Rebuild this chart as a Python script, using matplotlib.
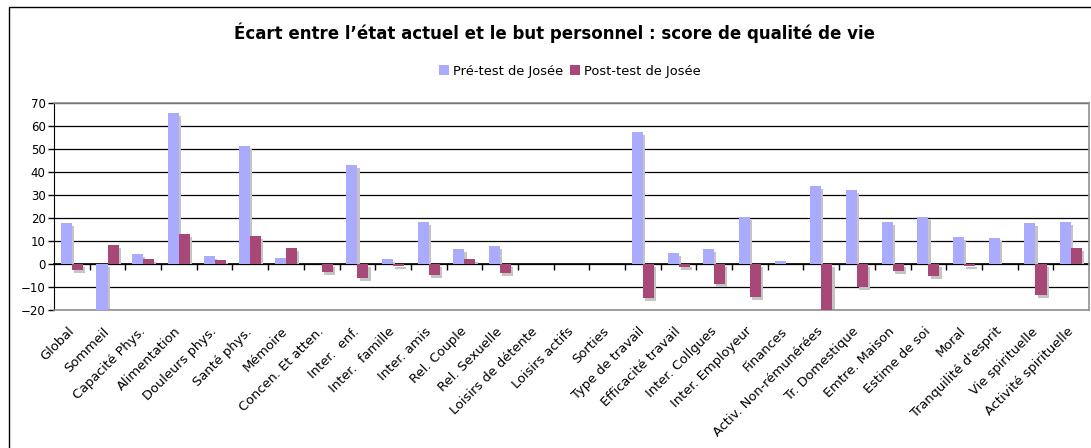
import numpy as np
import matplotlib
matplotlib.use("Agg")
import matplotlib.pyplot as plt
from matplotlib.patches import Rectangle, Patch

categories = ["Global", "Sommeil", "Capacité Phys.", "Alimentation", "Douleurs phys.",
              "Santé phys.", "Mémoire", "Concen. Et atten.", "Inter.  enf.", "Inter.  famille",
              "Inter. amis", "Rel. Couple", "Rel. Sexuelle", "Loisirs de détente",
              "Loisirs actifs", "Sorties", "Type de travail", "Efficacité travail",
              "Inter. Collgues", "Inter. Employeur", "Finances", "Activ. Non-rémunérées",
              "Tr. Domestique", "Emtre. Maison", "Estime de soi", "Moral",
              "Tranquilité d'esprit", "Vie spirituelle", "Activité spirituelle"]

pre_test = [18, -25, 4.5, 65.7, 3.5, 51.3, 2.6, 0, 43, 2.2, 18.3, 6.5, 7.8, 0, 0, 0,
            57.4, 4.8, 6.5, 20.4, 1.3, 33.9, 32.2, 18.3, 20.4, 11.7, 11.3, 17.8, 18.3]
post_test = [-2.6, 8.3, 2.2, 13, 1.7, 12.2, 7, -3.4, -6, -0.7, -4.8, 2.2, -3.9, 0, 0, 0,
             -14.8, -1.2, -8.7, -14.3, 0, -22, -10, -3, -5.2, -0.9, -0.2, -13.3, 7]

pre_color = "#aaaaff"
post_color = "#a84876"
shadow_color = "#c4c4c4"

fig = plt.figure(figsize=(10.91, 4.48), dpi=100)
fig.patches.append(Rectangle((9 / 1091, -0.05), 1.2, 1 - 7 / 448 + 0.05,
                             transform=fig.transFigure, fill=False,
                             edgecolor="black", linewidth=1))

ax = fig.add_axes([54 / 1091, 1 - 310 / 448, (1089 - 54) / 1091, (310 - 103) / 448])

x = np.arange(len(categories))
w = 0.31
dx, dy = 0.06, 1.3  # shadow offset (category units, data units)


def draw_bars(pos, vals, color):
    vals = np.asarray(vals, dtype=float)
    # shadow: shifted right and down, starting at zero for positive bars
    s_bottom = np.where(vals >= 0, 0, -dy)
    s_height = np.where(vals >= 0, np.maximum(vals - dy, 0), vals)
    ax.bar(pos + dx, s_height, w, bottom=s_bottom, color=shadow_color, zorder=2.5)
    return ax.bar(pos, vals, w, color=color, zorder=3)


draw_bars(x - w / 2, pre_test, pre_color)
draw_bars(x + w / 2, post_test, post_color)

ax.set_xlim(-0.5, len(categories) - 0.5)
ax.set_ylim(-20, 70)
ax.set_yticks(np.arange(-20, 71, 10))
ax.yaxis.grid(True, color="black", linewidth=0.9)
ax.set_axisbelow(True)
ax.tick_params(axis="y", labelsize=8.5, length=4, width=1, colors="black", pad=2)

ax.set_xticks(x)
ax.set_xticklabels(categories, rotation=45, ha="right", va="center",
                   rotation_mode="anchor", fontsize=9.4)
ax.tick_params(axis="x", length=0, pad=14)

for side in ["top", "right", "bottom"]:
    ax.spines[side].set_color("#909090")
    ax.spines[side].set_linewidth(1.2)
ax.spines["left"].set_color("black")

# zero axis with category tick marks
zero_ax = ax.secondary_xaxis(0, transform=ax.transData)
zero_ax.set_xticks(np.arange(0.5, len(categories) - 0.5, 1))
zero_ax.set_xticklabels([])
zero_ax.tick_params(length=4, width=1, direction="out", colors="black")
zero_ax.spines["bottom"].set_color("black")
zero_ax.spines["bottom"].set_linewidth(1.2)

fig.text(555 / 1091, 1 - 33 / 448, "Écart entre l’état actuel et le but personnel : score de qualité de vie",
         ha="center", va="center", fontsize=12, fontweight="bold")
handles = [Patch(facecolor=pre_color, label="Pré-test de Josée"),
           Patch(facecolor=post_color, label="Post-test de Josée")]
fig.legend(handles=handles, loc="center", bbox_to_anchor=(570 / 1091, 1 - 71 / 448),
           ncol=2, frameon=False, fontsize=9.4, handlelength=0.8, handleheight=0.8,
           handletextpad=0.3, columnspacing=0.5, borderpad=0)

fig.savefig("out.png", dpi=100)
